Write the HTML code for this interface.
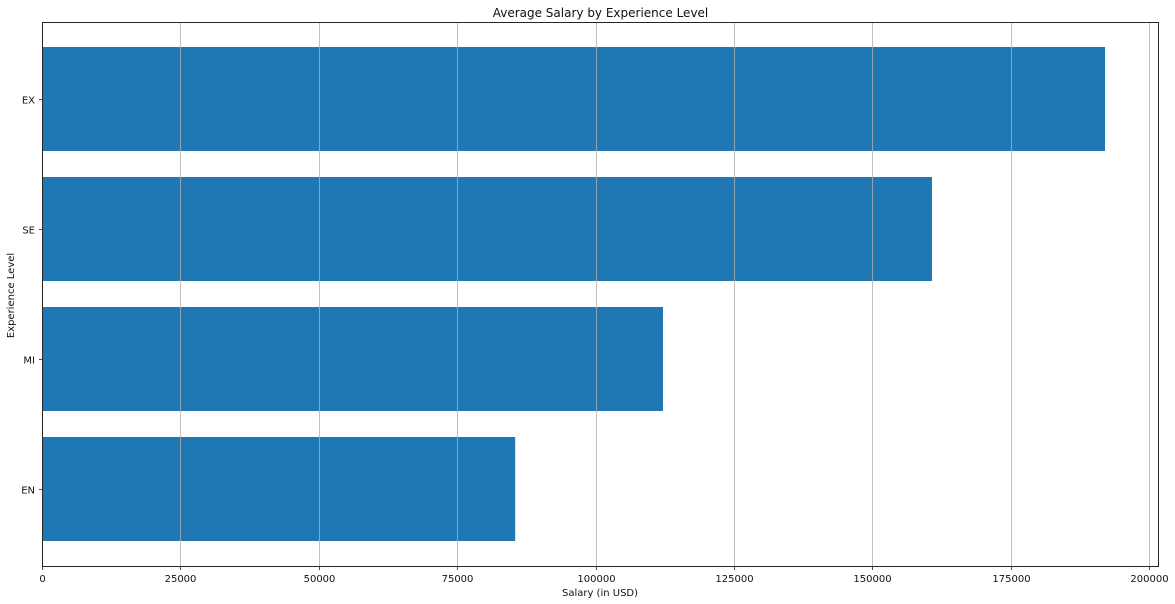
<!DOCTYPE html>
<html lang="en">
<head>
<meta charset="utf-8">
<title>Average Salary by Experience Level</title>
<style>
html,body{margin:0;padding:0;background:#fff;width:1175px;height:604px;overflow:hidden}
svg{display:block}
text{font-family:"DejaVu Sans",sans-serif;fill:#111}
</style>
</head>
<body>
<svg id="chart" width="1175" height="604" viewBox="0 0 1175 604" xmlns="http://www.w3.org/2000/svg"></svg>
<script>
const categories = ["EN", "MI", "SE", "EX"];
const salaries = [85400, 112100, 160700, 191960];
const xTicks = [0, 25000, 50000, 75000, 100000, 125000, 150000, 175000, 200000];
const chartTitle = "Average Salary by Experience Level";
const xAxisTitle = "Salary (in USD)";
const yAxisTitle = "Experience Level";

const NS = "http://www.w3.org/2000/svg";
const svg = document.getElementById("chart");
const plot = { left: 42.5, right: 1158.5, top: 22.5, bottom: 566.5 };
const xScale = v => plot.left + v * (1107 / 200000);
const yScale = i => 489 - i * 130;
const bandHeight = 104;

function make(tag, attrs, text) {
  const el = document.createElementNS(NS, tag);
  for (const k in attrs) el.setAttribute(k, attrs[k]);
  if (text !== undefined) el.textContent = text;
  svg.appendChild(el);
  return el;
}

categories.forEach((cat, i) => {
  const bar = make("rect", {
    x: plot.left,
    y: yScale(i) - bandHeight / 2,
    width: xScale(salaries[i]) - plot.left,
    height: bandHeight,
    fill: "#1f77b4"
  });
  
  
});

xTicks.forEach(t => {
  const x = Math.round(xScale(t) - 0.5) + 0.5;
  if (t !== 0) {
    const grid = make("line", { x1: x, x2: x, y1: plot.top, y2: plot.bottom, stroke: "#b0b0b0", "stroke-width": 0.8 });
    
    
  }
  const tick = make("line", { x1: x, x2: x, y1: plot.bottom, y2: plot.bottom + 3.5, stroke: "#222", "stroke-width": 0.8 });
  
  
  const label = make("text", { x: x, y: 582, "text-anchor": "middle", "font-size": 10 }, String(t));
  
  
});

categories.forEach((cat, i) => {
  const y = yScale(i);
  const tick = make("line", { x1: plot.left - 3.5, x2: plot.left, y1: y + 0.5, y2: y + 0.5, stroke: "#222", "stroke-width": 0.8 });
  
  
  const label = make("text", { x: 35, y: y + 4.5, "text-anchor": "end", "font-size": 10 }, cat);
  
  
});

const frame = make("rect", {
  x: plot.left,
  y: plot.top,
  width: plot.right - plot.left,
  height: plot.bottom - plot.top,
  fill: "none",
  stroke: "#262626",
  "stroke-width": 1
});



const title = make("text", { x: 600.5, y: 17, "text-anchor": "middle", "font-size": 12 }, chartTitle);



const xTitle = make("text", { x: 600, y: 596, "text-anchor": "middle", "font-size": 10 }, xAxisTitle);



const yTitle = make("text", { x: 14, y: 295.5, "text-anchor": "middle", "font-size": 10, transform: "rotate(-90 14 295.5)" }, yAxisTitle);


</script>
</body>
</html>
